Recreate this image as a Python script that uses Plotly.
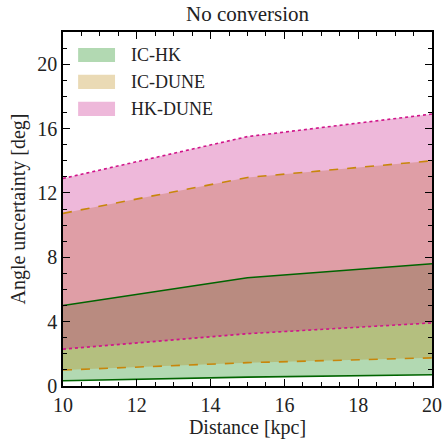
import plotly.graph_objects as go

distance = [10, 15, 20]
ic_hk_low = [0.33, 0.55, 0.70]
ic_hk_high = [5.0, 6.73, 7.6]
ic_dune_low = [0.99, 1.45, 1.75]
ic_dune_high = [10.73, 12.96, 14.0]
hk_dune_low = [2.29, 3.25, 3.92]
hk_dune_high = [12.9, 15.5, 16.9]
names = ["IC-HK", "IC-DUNE", "HK-DUNE"]

series = [
    (names[0], ic_hk_low, ic_hk_high, "rgba(0,128,0,0.3)", "#006400", "solid"),
    (names[1], ic_dune_low, ic_dune_high, "rgba(184,134,11,0.3)", "#c8860b", "dash"),
    (names[2], hk_dune_low, hk_dune_high, "rgba(199,21,133,0.3)", "#d0158a", "dot"),
]

SERIF = "Liberation Serif"
fig = go.Figure()
for name, lo, hi, fillc, linec, dash in series:
    fig.add_trace(go.Scatter(
        x=distance + distance[::-1], y=hi + lo[::-1], fill="toself",
        fillcolor=fillc, line=dict(width=0), mode="lines", name=name,
        showlegend=False, hoverinfo="skip"))
for name, lo, hi, fillc, linec, dash in series:
    for arr in (lo, hi):
        fig.add_trace(go.Scatter(
            x=distance, y=arr, mode="lines", showlegend=False,
            line=dict(color=linec, width=1.6, dash=dash)))

# legend drawn as swatches + labels in paper coordinates
leg_y = [0.935, 0.859, 0.783]
for (name, lo, hi, fillc, linec, dash), yc in zip(series, leg_y):
    fig.add_shape(type="rect", xref="paper", yref="paper",
                  x0=0.041, x1=0.141, y0=yc - 0.02, y1=yc + 0.02,
                  fillcolor=fillc, line=dict(width=0))
    fig.add_annotation(xref="paper", yref="paper", x=0.18, y=yc,
                       text=name, showarrow=False, xanchor="left", yanchor="middle",
                       font=dict(family=SERIF, size=18, color="#222"))

tickfont = dict(family=SERIF, size=20, color="#222")
titlefont = dict(family=SERIF, size=20, color="#222")
axis_common = dict(
    showgrid=False, zeroline=False, showline=True, linecolor="black",
    linewidth=1.5, mirror="allticks", ticks="inside", ticklen=7,
    tickwidth=1.2, tickcolor="black", tickfont=tickfont, automargin=False,
)
fig.update_xaxes(range=[10, 20], dtick=2, tick0=10,
                 minor=dict(dtick=0.5, ticks="inside", ticklen=4, tickcolor="black"),
                 title=dict(text="Distance [kpc]", font=titlefont, standoff=0),
                 **axis_common)
fig.update_yaxes(range=[0, 22], dtick=4, tick0=0,
                 minor=dict(dtick=1, ticks="inside", ticklen=4, tickcolor="black"),
                 title=dict(text="Angle uncertainty [deg]", font=titlefont, standoff=6),
                 **axis_common)
fig.update_layout(
    width=443, height=440,
    margin=dict(l=63, r=11, t=32, b=54),
    paper_bgcolor="white", plot_bgcolor="white",
    title=dict(text="No conversion", xref="paper", x=0.5, xanchor="center",
               yref="container", y=0.985, yanchor="top",
               font=dict(family=SERIF, size=21, color="#222")),
    font=dict(family=SERIF, size=18, color="#222"),
    showlegend=False,
)
fig.write_html("out.html", config={"displayModeBar": False},
               post_script="document.body.style.margin='0';document.body.style.overflow='hidden';")
